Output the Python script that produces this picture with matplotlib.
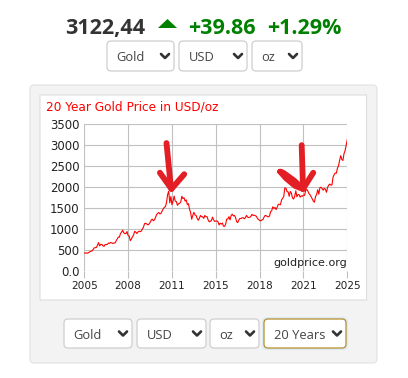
import numpy as np
import matplotlib.pyplot as plt
from matplotlib.patches import FancyBboxPatch, Polygon

# monthly gold price (USD/oz), Apr 2005 .. Apr 2025
start_year = 2005.25
prices = [
    429, 422, 430, 424, 438, 456, 470, 476, 510,                    # 2005
    549, 555, 557, 610, 676, 596, 633, 632, 598, 585, 627, 629,     # 2006
    631, 664, 655, 679, 667, 655, 665, 665, 712, 754, 806, 803,     # 2007
    889, 922, 968, 909, 888, 889, 939, 839, 829, 720, 760, 816,     # 2008
    858, 943, 924, 890, 928, 946, 934, 949, 996, 1043, 1127, 1135,  # 2009
    1118, 1095, 1114, 1149, 1205, 1232, 1193, 1215, 1271, 1343, 1370, 1391,  # 2010
    1356, 1372, 1424, 1474, 1512, 1529, 1625, 1813, 1895, 1620, 1770, 1575,  # 2011
    1660, 1780, 1660, 1650, 1560, 1600, 1610, 1640, 1775, 1720, 1740, 1660,  # 2012
    1690, 1580, 1600, 1470, 1390, 1230, 1320, 1395, 1330, 1320, 1250, 1205,  # 2013
    1250, 1320, 1290, 1290, 1250, 1320, 1290, 1290, 1215, 1170, 1180, 1200,  # 2014
    1280, 1215, 1180, 1185, 1190, 1170, 1095, 1135, 1115, 1140, 1065, 1060,  # 2015
    1115, 1235, 1235, 1290, 1215, 1320, 1350, 1310, 1320, 1275, 1175, 1150,  # 2016
    1210, 1250, 1245, 1265, 1265, 1240, 1270, 1320, 1280, 1270, 1275, 1300,  # 2017
    1345, 1320, 1325, 1315, 1300, 1250, 1225, 1200, 1190, 1215, 1220, 1280,  # 2018
    1320, 1315, 1295, 1285, 1305, 1410, 1430, 1525, 1485, 1510, 1460, 1515,  # 2019
    1585, 1585, 1575, 1690, 1730, 1770, 1975, 1965, 1885, 1880, 1775, 1890,  # 2020
    1850, 1735, 1710, 1770, 1905, 1765, 1815, 1815, 1755, 1785, 1775, 1805,  # 2021
    1795, 1910, 1940, 1900, 1840, 1810, 1765, 1715, 1660, 1635, 1770, 1815,  # 2022
    1930, 1825, 1980, 1990, 1960, 1920, 1965, 1940, 1870, 1985, 2040, 2065,  # 2023
    2040, 2045, 2230, 2290, 2330, 2325, 2445, 2500, 2630, 2740, 2650, 2625,  # 2024
    2790, 2860, 2990, 3122,                                          # 2025
]
x_labels = ['2005', '2008', '2011', '2015', '2018', '2021', '2025']
y_ticks = [0, 500, 1000, 1500, 2000, 2500, 3000, 3500]
y_labels = ['0.0', '500', '1000', '1500', '2000', '2500', '3000', '3500']

price_now = '3122,44'
change_abs = '+39.86'
change_pct = '+1.29%'
top_selects = ['Gold', 'USD', 'oz']
bottom_selects = ['Gold', 'USD', 'oz', '20 Years']

W, H = 408, 378
fig = plt.figure(figsize=(W / 100, H / 100), dpi=100)

# pixel overlay for the page furniture (y goes down)
bg = fig.add_axes([0, 0, 1, 1])
bg.set_xlim(0, W)
bg.set_ylim(H, 0)
bg.axis('off')
bg.set_zorder(0)

def box(x0, y0, x1, y1, fc, ec, r=4, lw=0.8):
    bg.add_patch(FancyBboxPatch((x0, y0), x1 - x0, y1 - y0,
                                boxstyle='round,pad=0,rounding_size=%g' % r,
                                fc=fc, ec=ec, lw=lw))

def select(x0, y0, x1, y1, label, ec='#cfcfcf'):
    box(x0, y0, x1, y1, 'white', ec, r=4, lw=0.9)
    cy = (y0 + y1) / 2
    bg.text(x0 + 9.5, cy + 5.3, label, fontsize=9.3, family='Open Sans',
            color='#444444', va='baseline', ha='left')
    cx = x1 - 9
    bg.plot([cx - 4, cx, cx + 4], [cy - 2, cy + 2, cy - 2], color='#333333',
            lw=1.9, solid_capstyle='round', solid_joinstyle='round')

# header
bg.text(65, 34, price_now, fontsize=15.5, family='Open Sans', weight='bold',
        color='#333333', va='baseline')
bg.add_patch(Polygon([(158, 28), (177, 28), (167.5, 19)], closed=True,
                     fc='#008000', ec='none'))
bg.text(188, 34, change_abs, fontsize=15.5, family='Open Sans', weight='bold',
        color='#008000', va='baseline')
bg.text(267, 34, change_pct, fontsize=15.5, family='Open Sans', weight='bold',
        color='#008000', va='baseline')

for (x0, x1), lab in zip([(107, 174), (179, 247), (252, 302)], top_selects):
    select(x0, 41, x1, 71, lab)

# grey panel and white chart card
box(30, 85, 377, 363, '#f3f3f3', '#e2e2e2', r=4)
box(40, 95, 366.5, 300, 'white', '#dddddd', r=0)

bg.text(46.5, 111, '20 Year Gold Price in USD/oz', fontsize=8.7, color='#ff0000',
        va='baseline', ha='left')

sel_x = [(64, 132), (137, 206), (210, 259), (264, 346)]
for (x0, x1), lab in zip(sel_x, bottom_selects):
    if lab == '20 Years':
        box(x0 - 2, 317, x1 + 2, 350, '#dbe9f7', 'none', r=5)
        select(x0, 319, x1, 348, lab, ec='#b8902a')
    else:
        select(x0, 319, x1, 348, lab)

# chart
ax = fig.add_axes([84.3 / W, 1 - 271 / H, 263 / W, 147.3 / H])
ax.set_zorder(2)
ax.patch.set_alpha(0)

t = start_year + np.arange(len(prices)) / 12
ax.plot(t, prices, color='#ff0000', lw=0.8)

ax.set_xlim(start_year, start_year + 20)
ax.set_ylim(0, 3500)
ax.set_xticks(np.linspace(start_year, start_year + 20, 7))
ax.set_xticklabels(x_labels)
ax.set_yticks(y_ticks)
ax.set_yticklabels(y_labels)
ax.grid(True, color='#c0c0c0', lw=0.8)
for s in ax.spines.values():
    s.set_visible(False)
ax.tick_params(axis='x', length=5, width=0.8, color='#c0c0c0', pad=2.5,
               labelsize=7.6, labelcolor='#222222')
ax.tick_params(axis='y', length=0, pad=3.5, labelsize=8.5, labelcolor='#222222')

ax.text(1.0, 0.02, 'goldprice.org', transform=ax.transAxes, ha='right',
        va='bottom', fontsize=8, color='#222222')

# hand-drawn arrows pointing at the two peaks
red = '#e31e24'
kw = dict(color=red, lw=4.2, solid_capstyle='round', solid_joinstyle='round',
          clip_on=False, zorder=5)
ax.plot([2011.5, 2011.78, 2011.88], [3040, 2160, 1950], **kw)
ax.plot([2011.0, 2011.88, 2012.85], [2335, 1950, 2300], **kw)

ax.plot([2021.78, 2021.85, 2021.88], [2990, 2300, 1950], **kw)
ax.plot([2022.66, 2021.88], [2335, 1950], **kw)
ax.plot([2020.15, 2020.6, 2021.3, 2021.88, 2021.2, 2020.4, 2020.15],
        [2360, 2200, 2020, 1950, 2150, 2330, 2360], **kw)

fig.savefig('out.png', dpi=100)
